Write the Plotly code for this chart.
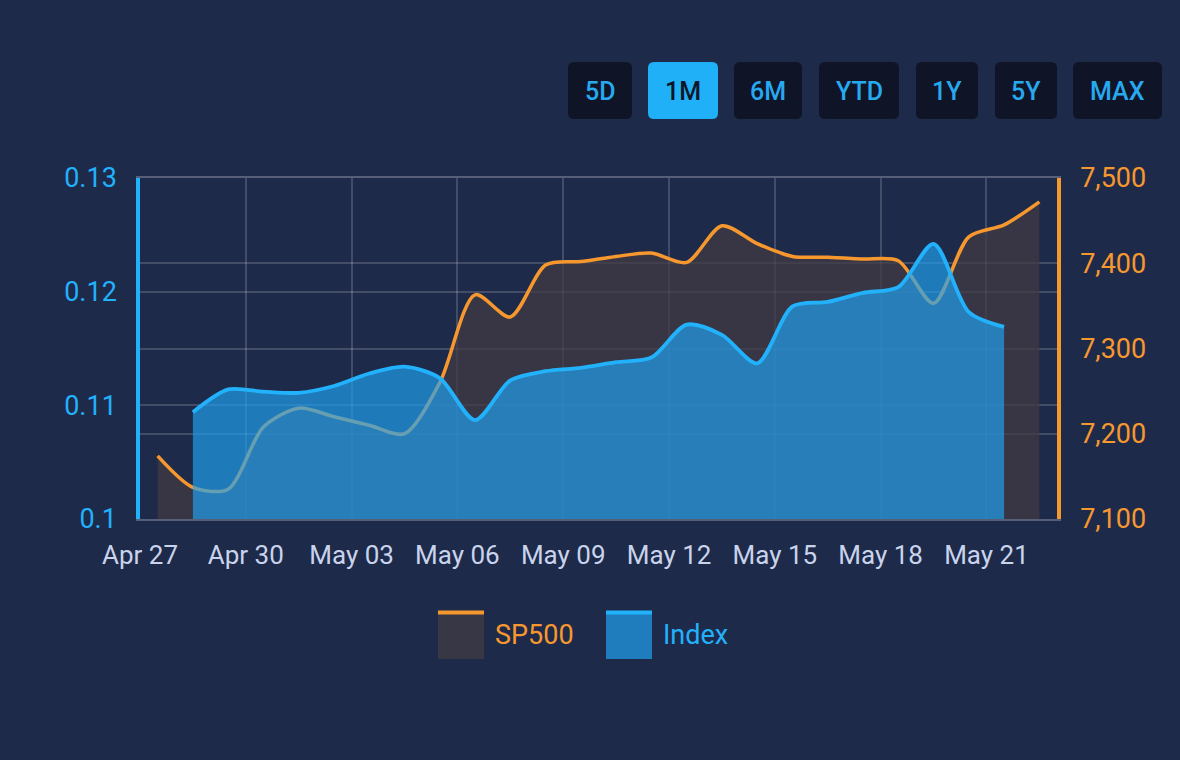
import pandas as pd
import plotly.graph_objects as go

# ---------------- data ----------------
dates = pd.date_range("2026-04-27", "2026-05-22", freq="D").strftime("%Y-%m-%d").tolist()
sp500 = [7174, 7137, 7135, 7208, 7230, 7220, 7210, 7200, 7260, 7363, 7337, 7398, 7402,
         7408, 7412, 7401, 7444, 7423, 7408, 7407, 7405, 7403, 7353, 7431, 7445, 7472]
index_dates = dates[1:25]
index_vals = [0.1094, 0.1114, 0.1112, 0.1111, 0.1117, 0.1128, 0.1134, 0.1124, 0.1087, 0.1122,
              0.1130, 0.1133, 0.1138, 0.1142, 0.1171, 0.1162, 0.1137, 0.1187, 0.1191, 0.1199,
              0.1204, 0.1242, 0.1182, 0.1169]
left_ticks = [0.10, 0.11, 0.12, 0.13]
left_labels = ["0.1", "0.11", "0.12", "0.13"]
right_ticks = [7100, 7200, 7300, 7400, 7500]
right_labels = ["7,100", "7,200", "7,300", "7,400", "7,500"]
range_buttons = ["5D", "1M", "6M", "YTD", "1Y", "5Y", "MAX"]
active_button = "1M"
series_names = ["SP500", "Index"]

# ---------------- style ----------------
BG = "#1e2a4a"
ORANGE = "#f7982f"
BLUE = "#22b1fb"
GRID = "rgba(255,255,255,0.17)"
FONT = "Roboto"
W, H = 1180, 760
L, R, T, B = 140, 123, 178, 241
PW, PH = W - L - R, H - T - B

sample_time = pd.Timedelta(hours=12)
x_sp = pd.to_datetime(dates) + sample_time
x_ix = pd.to_datetime(index_dates) + sample_time

fig = go.Figure()
fig.add_trace(go.Scatter(
    x=x_sp, y=sp500, name=series_names[0], yaxis="y",
    mode="lines", line=dict(color=ORANGE, width=3.5, shape="spline", smoothing=0.8),
    fill="tozeroy", fillcolor="rgba(66,58,66,0.72)", showlegend=False,
))
fig.add_trace(go.Scatter(
    x=x_ix, y=index_vals, name=series_names[1], yaxis="y2",
    mode="lines", line=dict(color=BLUE, width=3.8, shape="spline", smoothing=0.8),
    fill="tozeroy", fillcolor="rgba(32,160,240,0.68)", showlegend=False,
))


def px(x, y):
    return (x - L) / PW, (H - B - y) / PH


def rrect(x0, y0, x1, y1, r=6):
    X0, Y0 = px(x0, y0)
    X1, Y1 = px(x1, y1)
    rx, ry = r / PW, r / PH
    return (f"M{X0+rx},{Y0} L{X1-rx},{Y0} Q{X1},{Y0} {X1},{Y0-ry} "
            f"L{X1},{Y1+ry} Q{X1},{Y1} {X1-rx},{Y1} L{X0+rx},{Y1} "
            f"Q{X0},{Y1} {X0},{Y1+ry} L{X0},{Y0-ry} Q{X0},{Y0} {X0+rx},{Y0} Z")


shapes = []
annotations = []
button_boxes = [(568, 632), (648, 718), (734, 802), (819, 899), (916, 978), (995, 1057), (1073, 1162)]
for label, (bx0, bx1) in zip(range_buttons, button_boxes):
    active = label == active_button
    shapes.append(dict(type="path", xref="paper", yref="paper", path=rrect(bx0, 62, bx1, 119),
                       fillcolor="#1fb0f7" if active else "#0f1527", line=dict(width=0), layer="above"))
    cx, cy = px((bx0 + bx1) / 2, 91)
    annotations.append(dict(text=label, x=cx, y=cy, xref="paper", yref="paper", showarrow=False,
                            xanchor="center", yanchor="middle",
                            font=dict(family=FONT, size=25, weight=500,
                                      color="#0f1527" if active else "#27a9ef")))

# custom legend
legend_items = [(series_names[0], 438, "rgba(56,55,69,1)", ORANGE), (series_names[1], 606, "#1f7dbe", BLUE)]
for name, lx, fcol, lcol in legend_items:
    X0, Y0 = px(lx, 611)
    X1, Y1 = px(lx + 46, 659)
    shapes.append(dict(type="rect", xref="paper", yref="paper", x0=X0, x1=X1, y0=Y1, y1=Y0,
                       fillcolor=fcol, line=dict(width=0)))
    Xa, Ya = px(lx, 612.5)
    Xb, _ = px(lx + 46, 612.5)
    shapes.append(dict(type="line", xref="paper", yref="paper", x0=Xa, x1=Xb, y0=Ya, y1=Ya,
                       line=dict(color=lcol, width=4)))
    tx, ty = px(lx + 55, 635)
    annotations.append(dict(text=name, x=tx, y=ty, xref="paper", yref="paper", showarrow=False,
                            xanchor="left", yanchor="middle",
                            font=dict(family=FONT, size=27, color=lcol)))

fig.update_layout(
    width=W, height=H,
    margin=dict(l=L, r=R, t=T, b=B, pad=0),
    paper_bgcolor=BG, plot_bgcolor=BG,
    font=dict(family=FONT, size=26, color="#c9d4ec"),
    showlegend=False,
    shapes=shapes, annotations=annotations,
    xaxis=dict(
        type="date", range=["2026-04-27", "2026-05-23"],
        tick0="2026-04-27", dtick=3 * 86400000, tickformat="%b %d",
        showgrid=True, gridcolor=GRID, gridwidth=1.5,
        showline=True, linecolor="rgba(255,255,255,0.25)", linewidth=1.5, mirror=True,
        ticks="", ticklabelstandoff=12,
        tickfont=dict(family=FONT, size=26, color="#c9d4ec"),
        zeroline=False,
    ),
    yaxis=dict(
        side="right", range=[7100, 7500], tickvals=right_ticks, ticktext=right_labels,
        showgrid=True, gridcolor=GRID, gridwidth=1.5, zeroline=False,
        showline=True, linecolor=ORANGE, linewidth=3.5,
        ticks="", ticklabelstandoff=14,
        tickfont=dict(family=FONT, size=27, color=ORANGE),
    ),
    yaxis2=dict(
        side="left", overlaying="y", range=[0.10, 0.13], tickvals=left_ticks, ticktext=left_labels,
        showgrid=True, gridcolor=GRID, gridwidth=1.5, zeroline=False,
        showline=True, linecolor=BLUE, linewidth=3.5,
        ticks="", ticklabelstandoff=14,
        tickfont=dict(family=FONT, size=27, color=BLUE),
    ),
)

fig.write_html("out.html")
